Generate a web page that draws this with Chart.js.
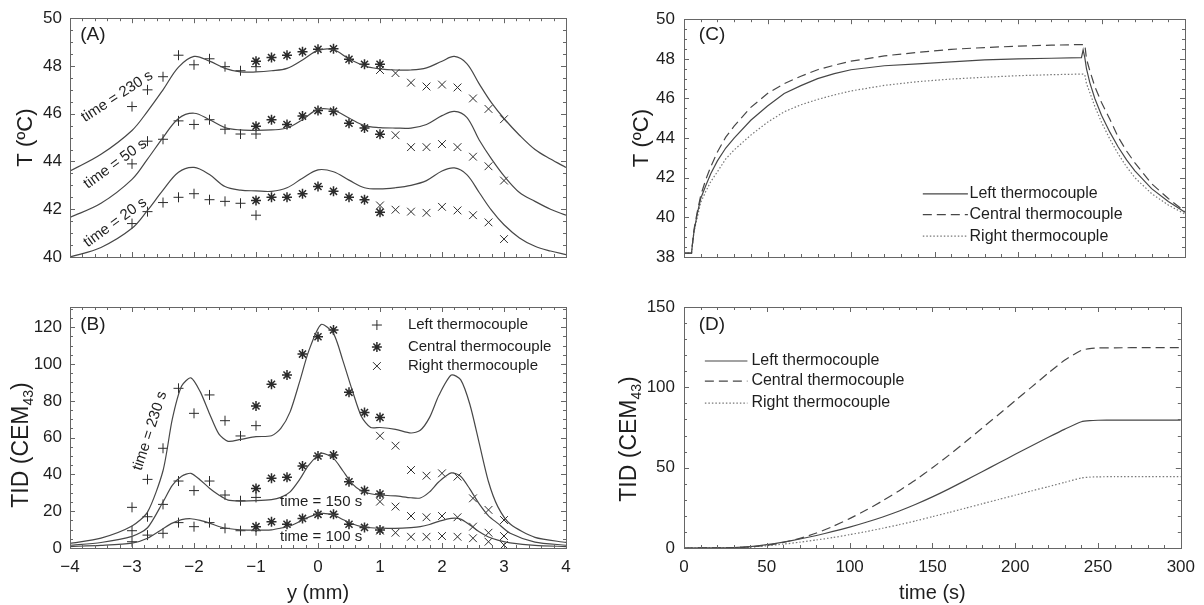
<!DOCTYPE html>
<html>
<head>
<meta charset="utf-8">
<title>Temperature and thermal dose</title>
<script src="https://cdn.jsdelivr.net/npm/chart.js@4.4.1/dist/chart.umd.min.js"></script>
<style>
  body { margin: 0; background: #fff; }
  canvas { position: absolute; }
</style>
</head>
<body>
<canvas id="panelA" width="600" height="282" style="left:0;top:0;width:600px;height:282px"></canvas>
<canvas id="panelB" width="600" height="323" style="left:0;top:282px;width:600px;height:323px"></canvas>
<canvas id="panelC" width="604" height="282" style="left:600px;top:0;width:604px;height:282px"></canvas>
<canvas id="panelD" width="604" height="323" style="left:600px;top:282px;width:604px;height:323px"></canvas>
<script>
// thermocouple positions (mm)
const leftY = [-3, -2.75, -2.5, -2.25, -2, -1.75, -1.5, -1.25, -1];
const centralY = [-1, -0.75, -0.5, -0.25, 0, 0.25, 0.5, 0.75, 1];
const rightY = [1, 1.25, 1.5, 1.75, 2, 2.25, 2.5, 2.75, 3];

// (A) simulated temperature profiles
const profileYA = [-4, -3.5, -3, -2.75, -2.5, -2.25, -2, -1.75, -1.5, -1.25, -1, -0.75, -0.5, -0.25, 0, 0.25,
  0.5, 0.75, 1, 1.25, 1.5, 1.75, 2, 2.2, 2.4, 2.6, 2.8, 3, 3.25, 3.5, 3.75, 4];
const tempSim230 = [43.6, 44.3, 45.3, 46.1, 47.0, 47.95, 48.4, 48.2, 47.9, 47.75, 47.75, 47.8, 47.9, 48.25, 48.65, 48.68,
  48.3, 48.0, 47.88, 47.83, 47.83, 47.92, 48.2, 48.4, 48.1, 47.25, 46.45, 45.8, 45.1, 44.5, 44.1, 43.75];
const tempSim50 = [41.66, 42.25, 43.25, 44.1, 45.0, 45.8, 46.02, 45.75, 45.42, 45.32, 45.3, 45.32, 45.4, 45.75, 46.18, 46.15,
  45.82, 45.5, 45.42, 45.4, 45.4, 45.55, 45.92, 46.1, 45.85, 44.9, 44.1, 43.4, 42.7, 42.33, 42.0, 41.75];
const tempSim20 = [40.0, 40.4, 41.2, 41.95, 42.8, 43.55, 43.75, 43.45, 42.95, 42.8, 42.77, 42.75, 42.9, 43.3, 43.65, 43.57,
  43.22, 42.9, 42.85, 42.9, 43.0, 43.2, 43.6, 43.73, 43.45, 42.7, 41.95, 41.35, 40.8, 40.45, 40.25, 40.1];

// (A) measured temperatures at 230 s, 50 s, 20 s
const tLeft230 = [46.3, 47.0, 47.55, 48.45, 48.05, 48.3, 47.97, 47.8, 47.97];
const tCentral230 = [48.2, 48.35, 48.45, 48.6, 48.7, 48.72, 48.28, 48.07, 48.07];
const tRight230 = [47.83, 47.7, 47.3, 47.14, 47.22, 47.1, 46.64, 46.2, 45.77];
const tLeft50 = [43.9, 44.85, 44.93, 45.7, 45.55, 45.75, 45.35, 45.15, 45.15];
const tCentral50 = [45.48, 45.75, 45.55, 45.9, 46.13, 46.1, 45.6, 45.4, 45.14];
const tRight50 = [45.15, 45.1, 44.6, 44.6, 44.73, 44.6, 44.2, 43.8, 43.2];
const tLeft20 = [41.4, 41.9, 42.28, 42.5, 42.65, 42.4, 42.33, 42.25, 41.75];
const tCentral20 = [42.37, 42.5, 42.5, 42.65, 42.95, 42.75, 42.5, 42.4, 41.87];
const tRight20 = [42.16, 41.98, 41.9, 41.85, 42.1, 41.95, 41.75, 41.45, 40.75];

// (B) simulated thermal dose profiles
const profileYB = [-4, -3.5, -3, -2.75, -2.5, -2.35, -2.2, -2.05, -1.9, -1.75, -1.6, -1.45, -1.25, -1, -0.75, -0.6,
  -0.45, -0.3, -0.15, 0.05, 0.25, 0.4, 0.55, 0.7, 0.85, 1, 1.25, 1.5, 1.65, 1.8, 1.95, 2.15, 2.3, 2.45, 2.6, 2.75, 2.9, 3.1, 3.5, 4];
const doseSim230 = [2.5, 5.4, 12, 19.5, 42, 70, 88, 92.5, 85, 73, 62, 58, 59, 60.5, 61, 65,
  74, 90, 107, 121.5, 116.5, 102, 86, 71.5, 65.5, 65.5, 64.5, 62.5, 64, 71, 83, 94, 91.5, 78, 57, 36, 22.5, 13, 5.8, 3];
const doseSim150 = [1.5, 3, 6.3, 11, 25, 34, 39, 40.6, 37, 32.5, 28.8, 26, 25.5, 25.7, 26.3, 27.5,
  30.5, 37, 45, 51.5, 48.7, 42, 35, 31, 29.5, 28.8, 28.3, 27.3, 27.2, 30.5, 36, 40.8, 39, 32, 24, 17.5, 13.4, 8, 3.2, 1.5];
const doseSim100 = [0.8, 1.4, 2.6, 5.3, 10.5, 13.5, 15.4, 15.9, 15, 13.5, 11.7, 10.6, 9.9, 9.7, 9.9, 10.8,
  12, 14.3, 16.8, 18.8, 18, 15.5, 13.2, 11.6, 11, 10.8, 10.7, 11.1, 11.6, 12.8, 14.5, 16.1, 15.7, 12.5, 8.8, 6, 4.3, 2.8, 1.4, 0.8];

// (B) measured thermal dose at 230 s, 150 s, 100 s
const dLeft230 = [22.1, 37.3, 54.2, 86.8, 73.2, 83.2, 69.2, 60.9, 66.5];
const dCentral230 = [77.2, 89, 94, 105.4, 114.8, 118.5, 84.6, 73.6, 71];
const dRight230 = [61, 55.6, 42.4, 39.3, 40.6, 38.8, 27, 20.7, 15.2];
const dLeft150 = [9.4, 17, 23.7, 36.4, 31.2, 36.4, 28.8, 25.7, 27.5];
const dCentral150 = [32.4, 37.9, 38.4, 44.6, 50, 50.5, 36, 31.2, 29.3];
const dRight150 = [25.2, 22.5, 17.4, 16.7, 17.4, 16.7, 11.6, 8.3, 6.5];
const dLeft100 = [3.4, 7, 8, 13.8, 11.6, 13.8, 10.7, 9.4, 9.4];
const dCentral100 = [11.6, 14.3, 12.9, 16.1, 18.3, 18.3, 12.9, 11.2, 9.8];
const dRight100 = [9.4, 8.3, 6.1, 6.1, 6.5, 6.1, 5.3, 3.4, 1.6];

// (C) temperature histories (s, ºC)
const timeC = [0, 4.5, 5, 6, 8, 10, 13, 16, 20, 25, 30, 40, 50, 60, 70, 80, 90, 100, 120, 140,
  160, 180, 200, 220, 238, 239, 240, 241, 243, 246, 250, 255, 260, 265, 270, 280, 290, 300];
const histLeft = [38.2, 38.2, 38.6, 39.3, 40.2, 40.95, 41.6, 42.2, 42.85, 43.5, 44.0, 44.9, 45.62, 46.25, 46.65, 47.0, 47.25, 47.45, 47.65, 47.75,
  47.85, 47.95, 48.0, 48.03, 48.06, 48.45, 48.06, 47.5, 46.8, 46.0, 45.15, 44.3, 43.55, 42.9, 42.35, 41.45, 40.8, 40.26];
const histCentral = [38.2, 38.2, 38.6, 39.4, 40.3, 41.1, 41.9, 42.55, 43.3, 44.05, 44.6, 45.55, 46.25, 46.75, 47.12, 47.45, 47.68, 47.88, 48.15, 48.33,
  48.48, 48.57, 48.64, 48.69, 48.72, 48.72, 48.72, 48.0, 47.4, 46.6, 45.8, 44.95, 44.05, 43.35, 42.75, 41.7, 40.95, 40.3];
const histRight = [38.2, 38.2, 38.6, 39.3, 40.0, 40.75, 41.3, 41.8, 42.3, 42.95, 43.4, 44.15, 44.8, 45.33, 45.68, 45.95, 46.18, 46.38, 46.66, 46.85,
  46.98, 47.07, 47.15, 47.2, 47.23, 47.23, 47.2, 46.75, 46.3, 45.6, 44.8, 43.95, 43.2, 42.55, 42.0, 41.2, 40.62, 40.17];

// (D) accumulated thermal dose (s, CEM43)
const timeD = [0, 20, 30, 40, 50, 60, 70, 80, 90, 100, 110, 120, 130, 140, 150, 160, 170, 180, 190, 200,
  210, 220, 230, 240, 245, 250, 260, 280, 300];
const cemLeft = [0, 0.1, 0.3, 0.9, 2.1, 3.7, 5.6, 7.8, 10.3, 13, 16, 19.3, 23, 27.2, 31.8, 36.8, 42.1, 47.5, 52.9, 58.3,
  63.6, 68.9, 74, 78.6, 79.3, 79.5, 79.6, 79.6, 79.6];
const cemCentral = [0, 0.05, 0.2, 0.7, 1.7, 3.5, 6, 9.3, 13.5, 18.3, 23.6, 29.4, 35.7, 42.5, 49.9, 57.8, 66.1, 74.6, 83.1, 91.7,
  100.3, 108.9, 117, 123, 124.1, 124.5, 124.6, 124.7, 124.7];
const cemRight = [0, 0.05, 0.2, 0.6, 1.4, 2.4, 3.6, 5, 6.5, 8.3, 10.2, 12.3, 14.5, 16.9, 19.5, 22.1, 24.8, 27.5, 30.2, 32.9,
  35.6, 38.2, 40.9, 43.6, 44.1, 44.3, 44.4, 44.4, 44.4];

const FONT = '"Liberation Sans", Arial, Helvetica, sans-serif';
const INK = '#1e1e1e';
const LINE = '#474747';
const MARK = '#2b2b2b';
Chart.defaults.font.family = FONT;
Chart.defaults.color = INK;

const pts = (xs, ys) => xs.map((x, i) => ({x, y: ys[i]}));
const minus = v => String(v).replace('-', '\u2212');

function curve(label, xs, ys, extra) {
  return Object.assign({
    label, data: pts(xs, ys), showLine: true, pointRadius: 0,
    borderColor: LINE, borderWidth: 1.2, tension: 0.35, fill: false
  }, extra);
}

function marks(label, xs, ys, style, r, w) {
  return {
    label, data: pts(xs, ys), showLine: false, pointStyle: style, pointRadius: r,
    pointBorderColor: MARK, pointBackgroundColor: MARK, pointBorderWidth: w || 1, borderColor: MARK
  };
}

// box around the plot with inward major/minor ticks on all four sides
const frameTicks = {
  id: 'frameTicks',
  afterDatasetsDraw(chart, args, o) {
    const {ctx, chartArea: a, scales} = chart;
    ctx.save();
    ctx.strokeStyle = '#666';
    ctx.lineWidth = 1;
    ctx.beginPath();
    ['x', 'y'].forEach(id => {
      const s = scales[id];
      const t = o[id];
      const n = Math.round((s.max - s.min) / t.minor);
      for (let i = 0; i <= n; i++) {
        const v = s.min + i * t.minor;
        const r = v / t.major;
        const len = Math.abs(r - Math.round(r)) < 1e-6 ? 5 : 3;
        const p = Math.round(s.getPixelForValue(v)) + 0.5;
        if (id === 'x') {
          ctx.moveTo(p, a.bottom); ctx.lineTo(p, a.bottom - len);
          ctx.moveTo(p, a.top); ctx.lineTo(p, a.top + len);
        } else {
          ctx.moveTo(a.left, p); ctx.lineTo(a.left + len, p);
          ctx.moveTo(a.right, p); ctx.lineTo(a.right - len, p);
        }
      }
    });
    ctx.stroke();
    ctx.strokeRect(Math.round(a.left) + 0.5, Math.round(a.top) + 0.5, Math.round(a.width), Math.round(a.height));
    ctx.restore();
  }
};

// panel letters, curve captions, keys and the subscripted dose axis title
const notes = {
  id: 'notes',
  afterDraw(chart, args, o) {
    const {ctx, scales: {x, y}} = chart;
    const sets = chart.data.datasets;
    ctx.save();
    ctx.fillStyle = INK;
    ctx.textBaseline = 'middle';
    (o.texts || []).forEach(t => {
      ctx.save();
      ctx.translate(x.getPixelForValue(t.x), y.getPixelForValue(t.y));
      ctx.rotate((t.rot || 0) * Math.PI / 180);
      ctx.font = t.size + 'px ' + FONT;
      ctx.textAlign = 'center';
      ctx.fillText(t.text, 0, 0);
      ctx.restore();
    });
    (o.keys || []).forEach(k => {
      const ds = sets[k.ds];
      const py = y.getPixelForValue(k.y);
      ctx.save();
      if (k.x1 !== undefined) {
        ctx.strokeStyle = ds.borderColor;
        ctx.lineWidth = ds.borderWidth;
        ctx.setLineDash(ds.borderDash || []);
        ctx.beginPath();
        ctx.moveTo(x.getPixelForValue(k.x0), py);
        ctx.lineTo(x.getPixelForValue(k.x1), py);
        ctx.stroke();
      } else {
        ctx.strokeStyle = ds.pointBorderColor;
        ctx.fillStyle = ds.pointBackgroundColor;
        ctx.lineWidth = ds.pointBorderWidth;
        Chart.helpers.drawPoint(ctx, {pointStyle: ds.pointStyle, radius: ds.pointRadius, borderWidth: ds.pointBorderWidth, rotation: 0},
          x.getPixelForValue(k.x0), py);
      }
      ctx.restore();
      ctx.font = o.keySize + 'px ' + FONT;
      ctx.textAlign = 'left';
      ctx.fillText(ds.label, x.getPixelForValue(k.tx), py);
    });
    if (o.yTitle) {
      const tt = o.yTitle;
      ctx.translate(tt.x, tt.y);
      ctx.rotate(-Math.PI / 2);
      ctx.textAlign = 'left';
      const big = tt.size + 'px ' + FONT;
      const small = Math.round(tt.size * 0.62) + 'px ' + FONT;
      ctx.font = big;
      const w1 = ctx.measureText(tt.main).width;
      const w3 = ctx.measureText(')').width;
      ctx.font = small;
      const w2 = ctx.measureText(tt.sub).width;
      let cx = -(w1 + w2 + w3) / 2;
      ctx.font = big;
      ctx.fillText(tt.main, cx, 0);
      cx += w1;
      ctx.font = small;
      ctx.fillText(tt.sub, cx, tt.size * 0.3);
      cx += w2;
      ctx.font = big;
      ctx.fillText(')', cx, 0);
    }
    ctx.restore();
  }
};

function panelOptions(p) {
  return {
    responsive: false,
    animation: false,
    events: [],
    layout: {padding: {top: p.top, right: p.right, left: 0, bottom: 0}},
    plugins: {
      legend: {display: false},
      tooltip: {enabled: false},
      frameTicks: p.frame,
      notes: p.notes
    },
    scales: {
      x: {
        type: 'linear', min: p.xMin, max: p.xMax,
        grid: {display: false, drawTicks: false},
        border: {display: false},
        ticks: {display: p.xLabels, stepSize: p.xStep, padding: 9, maxRotation: 0, font: {size: 17}, callback: minus},
        title: {display: !!p.xTitle, text: p.xTitle || '', font: {size: 20}, padding: 0},
        afterFit: s => { s.height = p.xHeight; }
      },
      y: {
        type: 'linear', min: p.yMin, max: p.yMax,
        grid: {display: false, drawTicks: false},
        border: {display: false},
        ticks: {stepSize: p.yStep, padding: p.yPad, includeBounds: false, font: {size: 17}, callback: minus},
        title: {display: !!p.yTitle, text: p.yTitle || '', font: {size: 22}, padding: {top: p.yTitlePad || 0, bottom: 0}},
        afterFit: s => { s.width = p.yWidth; }
      }
    }
  };
}

const plusPts = (a, b, c) => [...a, ...b, ...c];

// (A) temperature vs position
new Chart(document.getElementById('panelA'), {
  type: 'scatter',
  data: {datasets: [
    curve('time = 230 s', profileYA, tempSim230),
    curve('time = 50 s', profileYA, tempSim50),
    curve('time = 20 s', profileYA, tempSim20),
    marks('Left thermocouple', plusPts(leftY, leftY, leftY), plusPts(tLeft230, tLeft50, tLeft20), 'cross', 5),
    marks('Central thermocouple', plusPts(centralY, centralY, centralY), plusPts(tCentral230, tCentral50, tCentral20), 'star', 5, 1.5),
    marks('Right thermocouple', plusPts(rightY, rightY, rightY), plusPts(tRight230, tRight50, tRight20), 'crossRot', 5.5)
  ]},
  options: panelOptions({
    top: 16, right: 34, xHeight: 25, yWidth: 70, yPad: 8,
    xMin: -4, xMax: 4, xStep: 1, xLabels: false,
    yMin: 40, yMax: 50, yStep: 2, yTitle: 'T (ºC)', yTitlePad: 13,
    frame: {x: {major: 1, minor: 0.2}, y: {major: 2, minor: 0.5}},
    notes: {
      texts: [
        {text: '(A)', x: -3.63, y: 49.3, size: 19},
        {text: 'time = 230 s', x: -3.24, y: 46.72, rot: -33, size: 15},
        {text: 'time = 50 s', x: -3.27, y: 43.9, rot: -36, size: 15},
        {text: 'time = 20 s', x: -3.27, y: 41.45, rot: -36, size: 15}
      ]
    }
  }),
  plugins: [frameTicks, notes]
});

// (B) thermal dose vs position
new Chart(document.getElementById('panelB'), {
  type: 'scatter',
  data: {datasets: [
    curve('time = 230 s', profileYB, doseSim230, {tension: 0.25}),
    curve('time = 150 s', profileYB, doseSim150, {tension: 0.25}),
    curve('time = 100 s', profileYB, doseSim100, {tension: 0.25}),
    marks('Left thermocouple', plusPts(leftY, leftY, leftY), plusPts(dLeft230, dLeft150, dLeft100), 'cross', 5),
    marks('Central thermocouple', plusPts(centralY, centralY, centralY), plusPts(dCentral230, dCentral150, dCentral100), 'star', 5, 1.5),
    marks('Right thermocouple', plusPts(rightY, rightY, rightY), plusPts(dRight230, dRight150, dRight100), 'crossRot', 5.5)
  ]},
  options: panelOptions({
    top: 25, right: 34, xHeight: 57, yWidth: 70, yPad: 8,
    xMin: -4, xMax: 4, xStep: 1, xLabels: true, xTitle: 'y (mm)',
    yMin: 0, yMax: 131, yStep: 20,
    frame: {x: {major: 1, minor: 0.2}, y: {major: 20, minor: 5}},
    notes: {
      texts: [
        {text: '(B)', x: -3.63, y: 121.2, size: 19},
        {text: 'time = 230 s', x: -2.71, y: 63.6, rot: -72, size: 15},
        {text: 'time = 150 s', x: 0.05, y: 25.2, size: 15},
        {text: 'time = 100 s', x: 0.05, y: 6.1, size: 15}
      ],
      keys: [
        {ds: 3, x0: 0.95, tx: 1.45, y: 121.2},
        {ds: 4, x0: 0.95, tx: 1.45, y: 109.2},
        {ds: 5, x0: 0.95, tx: 1.45, y: 98.9}
      ],
      keySize: 15,
      yTitle: {x: 22, y: 163, size: 23, main: 'TID (CEM', sub: '43'}
    }
  }),
  plugins: [frameTicks, notes]
});

// (C) temperature histories
new Chart(document.getElementById('panelC'), {
  type: 'scatter',
  data: {datasets: [
    curve('Left thermocouple', timeC, histLeft, {tension: 0}),
    curve('Central thermocouple', timeC, histCentral, {tension: 0, borderDash: [9, 5]}),
    curve('Right thermocouple', timeC, histRight, {tension: 0, borderDash: [1.5, 2], borderColor: '#777'})
  ]},
  options: panelOptions({
    top: 16, right: 19, xHeight: 25, yWidth: 84, yPad: 9,
    xMin: 0, xMax: 300, xStep: 50, xLabels: false,
    yMin: 38, yMax: 50, yStep: 2, yTitle: 'T (ºC)', yTitlePad: 29,
    frame: {x: {major: 50, minor: 10}, y: {major: 2, minor: 0.5}},
    notes: {
      texts: [{text: '(C)', x: 16.8, y: 49.2, size: 19}],
      keys: [
        {ds: 0, x0: 143, x1: 170, tx: 171, y: 41.19},
        {ds: 1, x0: 143, x1: 170, tx: 171, y: 40.14},
        {ds: 2, x0: 143, x1: 170, tx: 171, y: 39.05}
      ],
      keySize: 16
    }
  }),
  plugins: [frameTicks, notes]
});

// (D) accumulated dose
new Chart(document.getElementById('panelD'), {
  type: 'scatter',
  data: {datasets: [
    curve('Left thermocouple', timeD, cemLeft, {tension: 0.2}),
    curve('Central thermocouple', timeD, cemCentral, {tension: 0.2, borderDash: [9, 5]}),
    curve('Right thermocouple', timeD, cemRight, {tension: 0.2, borderDash: [1.5, 2], borderColor: '#777'})
  ]},
  options: panelOptions({
    top: 25, right: 19, xHeight: 57, yWidth: 84, yPad: 9,
    xMin: 0, xMax: 300, xStep: 50, xLabels: true, xTitle: 'time (s)',
    yMin: 0, yMax: 150, yStep: 50,
    frame: {x: {major: 50, minor: 10}, y: {major: 50, minor: 10}},
    notes: {
      texts: [{text: '(D)', x: 16.8, y: 138.8, size: 19}],
      keys: [
        {ds: 0, x0: 12.6, x1: 38.3, tx: 40.7, y: 116.4},
        {ds: 1, x0: 12.6, x1: 38.3, tx: 40.7, y: 103.9},
        {ds: 2, x0: 12.6, x1: 38.3, tx: 40.7, y: 90.2}
      ],
      keySize: 16,
      yTitle: {x: 30, y: 157, size: 23, main: 'TID (CEM', sub: '43'}
    }
  }),
  plugins: [frameTicks, notes]
});
</script>
</body>
</html>
